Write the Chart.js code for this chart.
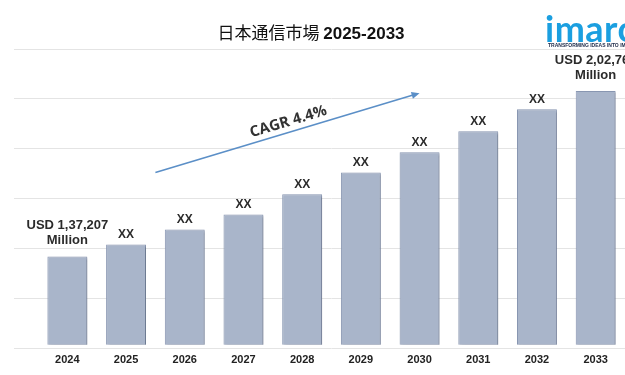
<!DOCTYPE html>
<html lang="ja">

<head>
  <meta charset="UTF-8">
  <title>日本通信市場 2025-2033</title>
  <style>
    html, body { margin: 0; padding: 0; background: #fff; overflow: hidden; }
    .wrap { position: relative; width: 625px; height: 375px; }
    .titulo {
      position: absolute; left: 0; width: 622px; top: 21px; text-align: center;
      font-size: 17px; line-height: 22px; color: #111;
      font-family: "Noto Sans CJK JP", "Liberation Sans", sans-serif;
    }
    .titulo b { font-family: "Liberation Sans", Arial, sans-serif; font-weight: bold; }
    .logo {
      position: absolute; left: 545px; top: 5px; white-space: nowrap;
      font-family: Lato, sans-serif; font-weight: 700; font-size: 36px; line-height: 46px;
      color: #1b9fe0; letter-spacing: 0.5px;
    }
    .lema {
      position: absolute; left: 548px; top: 42px; white-space: nowrap;
      font-family: "Liberation Sans", sans-serif; font-weight: bold; font-size: 5px;
      color: #1d2a48;
    }
    canvas { position: absolute; left: 0; top: 0; }
  </style>
</head>

<body>
  <div class="wrap">
    <canvas id="myChart" width="625" height="375"></canvas>
    <div class="titulo">日本通信市場 <b>2025-2033</b></div>
    <div class="logo">imarc</div>
    <div class="lema">TRANSFORMING IDEAS INTO IMPACT</div>
  </div>

  <script src="https://cdn.jsdelivr.net/npm/chart.js"></script>
  <script>
    // valores em USD milhoes (so 2024 e 2033 aparecem no grafico, o resto e estimado)
    var anos = ['2024', '2025', '2026', '2027', '2028', '2029', '2030', '2031', '2032', '2033'];
    var valores = [137207, 141900, 147900, 153800, 161800, 170500, 178500, 186800, 195500, 202760];
    var rotulos = [
      ['USD 1,37,207', 'Million'], ['XX'], ['XX'], ['XX'], ['XX'],
      ['XX'], ['XX'], ['XX'], ['XX'], ['USD 2,02,760', 'Million']
    ];
    var eixoMin = 100600;
    var eixoMax = 219400;
    var passo = 19800;
    var baseBarra = 102200;
    var cagrTexto = 'CAGR 4.4%';
    var setaInicio = [1.5, 170500];
    var setaFim = [6, 201900];

    var rotulosPlugin = {
      id: 'rotulos',
      beforeDatasetsDraw: function (chart) {
        var ctx = chart.ctx;
        ctx.save();
        ctx.shadowColor = 'rgba(70, 80, 100, 0.45)';
        ctx.shadowOffsetX = 1.5;
        ctx.shadowOffsetY = 1.5;
        ctx.shadowBlur = 2;
      },
      afterDatasetsDraw: function (chart) {
        var ctx = chart.ctx;
        ctx.restore();
        var meta = chart.getDatasetMeta(0);

        ctx.save();
        ctx.textAlign = 'center';
        ctx.textBaseline = 'middle';
        ctx.fillStyle = '#2b2b2b';
        meta.data.forEach(function (bar, i) {
          var linhas = rotulos[i];
          if (linhas.length > 1) {
            ctx.font = 'bold 13px "Liberation Sans", Arial, sans-serif';
            ctx.fillText(linhas[0], bar.x, bar.y - 31);
            ctx.fillText(linhas[1], bar.x, bar.y - 16);
          } else {
            ctx.font = 'bold 12px "Liberation Sans", Arial, sans-serif';
            ctx.fillText(linhas[0], bar.x, bar.y - 10);
          }
        });

        // seta do CAGR
        var x = chart.scales.x, y = chart.scales.y;
        var x1 = x.getPixelForValue(setaInicio[0]), y1 = y.getPixelForValue(setaInicio[1]);
        var x2 = x.getPixelForValue(setaFim[0]), y2 = y.getPixelForValue(setaFim[1]);
        var ang = Math.atan2(y2 - y1, x2 - x1);
        ctx.strokeStyle = '#5b8fc7';
        ctx.fillStyle = '#5b8fc7';
        ctx.lineWidth = 1.6;
        ctx.beginPath();
        ctx.moveTo(x1, y1);
        ctx.lineTo(x2 - 5 * Math.cos(ang), y2 - 5 * Math.sin(ang));
        ctx.stroke();
        ctx.beginPath();
        ctx.moveTo(x2, y2);
        ctx.lineTo(x2 - 8 * Math.cos(ang) + 3.5 * Math.sin(ang), y2 - 8 * Math.sin(ang) - 3.5 * Math.cos(ang));
        ctx.lineTo(x2 - 8 * Math.cos(ang) - 3.5 * Math.sin(ang), y2 - 8 * Math.sin(ang) + 3.5 * Math.cos(ang));
        ctx.closePath();
        ctx.fill();

        // texto do CAGR
        var mx = (x1 + x2) / 2 + 1, my = (y1 + y2) / 2 - 11;
        ctx.translate(mx, my);
        ctx.rotate(ang);
        ctx.font = 'bold 15px "Open Sans", sans-serif';
        ctx.fillStyle = '#333';
        ctx.fillText(cagrTexto, 0, 0);
        ctx.restore();
      }
    };

    const ctx = document.getElementById('myChart');
    new Chart(ctx, {
      type: 'bar',
      data: {
        labels: anos,
        datasets: [{
          label: 'Mercado',
          data: valores,
          base: baseBarra,
          backgroundColor: '#a9b5ca',
          borderColor: '#8b99b4',
          borderWidth: 1,
          barPercentage: 0.68,
          categoryPercentage: 1.0
        }]
      },
      options: {
        responsive: false,
        animation: false,
        layout: {
          padding: { left: 14, right: 0, top: 49, bottom: 3 }
        },
        plugins: {
          legend: { display: false },
          tooltip: { enabled: false }
        },
        scales: {
          x: {
            grid: { display: false, drawTicks: false },
            border: { display: false },
            ticks: {
              padding: 5,
              color: '#222',
              font: { family: '"Liberation Sans", Arial, sans-serif', size: 11, weight: 'bold' }
            }
          },
          y: {
            min: eixoMin,
            max: eixoMax,
            border: { display: false },
            grid: { color: '#e4e4e4', lineWidth: 1, tickLength: 24 },
            ticks: { display: false, stepSize: passo }
          }
        }
      },
      plugins: [rotulosPlugin]
    });
  </script>
</body>

</html>
